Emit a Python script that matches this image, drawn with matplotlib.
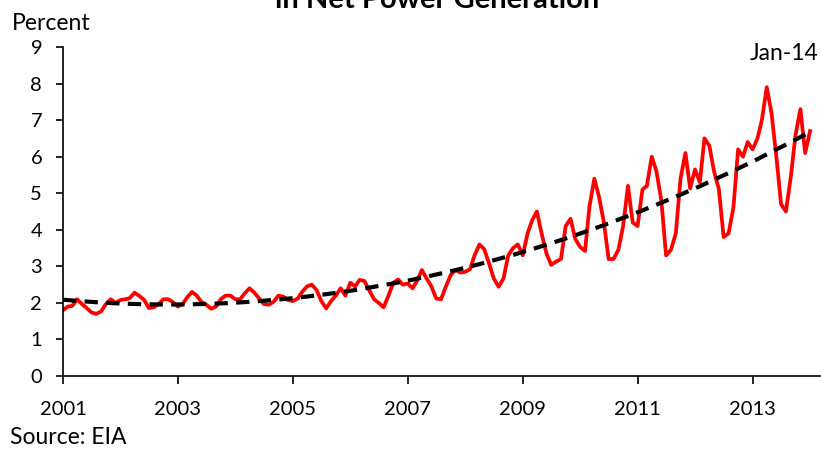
import numpy as np
import pandas as pd
import matplotlib
matplotlib.use("Agg")
import matplotlib.pyplot as plt
import matplotlib.dates as mdates

plt.rcParams['font.family'] = ['Lato', 'DejaVu Sans']

# monthly share (percent), Jan 2001 .. Jan 2014
share2001 = [1.80, 1.90, 1.92, 2.10, 1.97, 1.86, 1.74, 1.70, 1.77, 1.97, 2.10, 2.00]
share2002 = [2.08, 2.10, 2.13, 2.28, 2.19, 2.08, 1.86, 1.88, 1.97, 2.10, 2.10, 2.02]
share2003 = [1.90, 1.97, 2.15, 2.30, 2.20, 2.02, 1.95, 1.84, 1.90, 2.10, 2.20, 2.20]
share2004 = [2.10, 2.10, 2.26, 2.40, 2.28, 2.12, 1.97, 1.95, 2.03, 2.20, 2.17, 2.08]
share2005 = [2.05, 2.12, 2.30, 2.45, 2.50, 2.35, 2.05, 1.85, 2.05, 2.20, 2.40, 2.20]
share2006 = [2.55, 2.45, 2.63, 2.60, 2.35, 2.10, 2.00, 1.88, 2.20, 2.55, 2.64, 2.50]
share2007 = [2.53, 2.40, 2.60, 2.90, 2.67, 2.45, 2.12, 2.10, 2.45, 2.76, 2.90, 2.83]
share2008 = [2.85, 2.92, 3.30, 3.60, 3.47, 3.08, 2.67, 2.44, 2.67, 3.30, 3.50, 3.60]
share2009 = [3.30, 3.90, 4.25, 4.50, 3.90, 3.35, 3.04, 3.13, 3.20, 4.10, 4.30, 3.75]
share2010 = [3.53, 3.42, 4.63, 5.40, 4.90, 4.20, 3.20, 3.20, 3.45, 4.10, 5.20, 4.20]
share2011 = [4.10, 5.10, 5.20, 6.00, 5.60, 4.80, 3.30, 3.45, 3.90, 5.40, 6.10, 5.13]
share2012 = [5.65, 5.30, 6.50, 6.30, 5.60, 5.10, 3.80, 3.90, 4.60, 6.20, 6.00, 6.40]
share2013 = [6.20, 6.50, 7.00, 7.90, 7.20, 6.00, 4.70, 4.50, 5.45, 6.60, 7.30, 6.10]
share2014 = [6.70]

share = (share2001 + share2002 + share2003 + share2004 + share2005 + share2006 +
         share2007 + share2008 + share2009 + share2010 + share2011 + share2012 +
         share2013 + share2014)
dates = pd.date_range("2001-01-01", periods=len(share), freq="MS")
tick_years = [2001, 2003, 2005, 2007, 2009, 2011, 2013]

# polynomial trend line (as in the spreadsheet)
t = np.arange(len(share))
coef = np.polyfit(t, share, 2)
trend = np.polyval(coef, t)

fig = plt.figure(figsize=(8.21, 4.5), dpi=100)
ax = fig.add_axes([0.0767, 0.1644, 0.922, 0.7312])

ax.plot(dates, share, color="#ff0000", lw=2.7, solid_joinstyle="round")
ax.plot(dates, trend, color="black", lw=3, ls=(0, (3.2, 2.0)))

ax.set_ylim(0, 9)
ax.set_yticks(range(0, 10))
ax.set_xlim(pd.Timestamp("2001-01-01"), pd.Timestamp("2014-03-05"))
ax.set_xticks([pd.Timestamp(f"{y}-01-01") for y in tick_years])
ax.xaxis.set_major_formatter(mdates.DateFormatter("%Y"))

for s in ["top", "right"]:
    ax.spines[s].set_visible(False)
for s in ["left", "bottom"]:
    ax.spines[s].set_linewidth(1.2)

ax.tick_params(axis="y", direction="out", length=5, width=1.2, labelsize=14.5, pad=10)
ax.tick_params(axis="x", direction="out", length=6, width=1.2, labelsize=14.5, pad=12)

fig.text(0.015, 0.933, "Percent", fontsize=16.5, ha="left", va="baseline")
fig.text(0.997, 0.867, "Jan-14", fontsize=16.5, ha="right", va="baseline")
fig.text(0.012, 0.013, "Source: EIA", fontsize=16.5, ha="left", va="baseline")
# title line above is cropped in the original picture
fig.text(0.532, 0.982, "in Net Power Generation", fontsize=21, fontweight="bold",
         ha="center", va="baseline")

fig.savefig("out.png", dpi=100)
